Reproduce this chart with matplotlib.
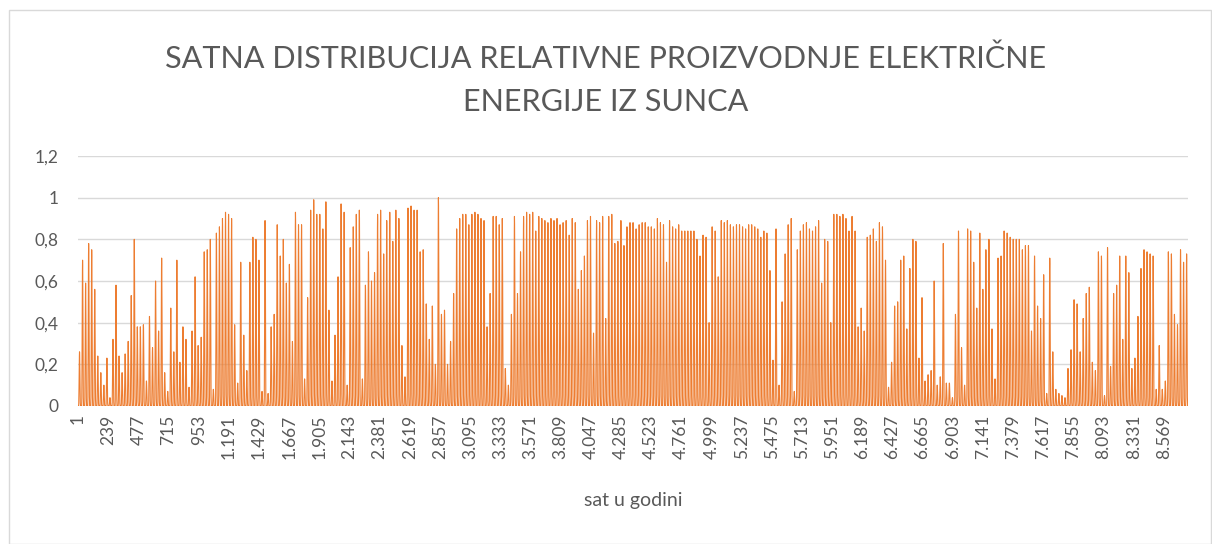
import matplotlib
matplotlib.use("Agg")
import matplotlib.pyplot as plt
from matplotlib.patches import Rectangle
import numpy as np

plt.rcParams['font.family'] = ['Lato', 'DejaVu Sans']

title = "SATNA DISTRIBUCIJA RELATIVNE PROIZVODNJE ELEKTRIČNE\nENERGIJE IZ SUNCA"
x_title = "sat u godini"

# daily peak values (365 days)
daily_peak = [
    0.26,0.70,0.59,0.78,0.75,0.56,0.24,0.16,0.10,0.23,0.04,0.32,0.58,0.24,0.16,0.25,0.31,0.53,0.80,0.38,0.38,0.39,0.12,0.43,0.28,0.60,0.36,0.71,0.16,0.07,0.47,0.26,0.70,0.21,0.38,0.32,0.09,
    0.36,0.62,0.29,0.33,0.74,0.75,0.80,0.08,0.83,0.86,0.90,0.93,0.92,0.90,0.39,0.11,0.69,0.34,0.17,0.69,0.81,0.80,0.70,0.07,0.89,0.06,0.38,0.44,0.87,0.72,0.80,0.59,0.68,0.31,0.93,0.87,
    0.87,0.13,0.52,0.94,0.99,0.92,0.92,0.85,0.98,0.46,0.12,0.34,0.62,0.97,0.93,0.10,0.76,0.86,0.92,0.94,0.13,0.58,0.74,0.60,0.64,0.92,0.94,0.73,0.89,0.93,0.79,0.94,0.90,0.29,0.14,0.95,0.96,
    0.94,0.94,0.74,0.75,0.49,0.32,0.48,0.20,1.00,0.44,0.46,0.20,0.31,0.54,0.85,0.90,0.92,0.92,0.87,0.92,0.93,0.92,0.90,0.89,0.38,0.54,0.91,0.91,0.87,0.90,0.18,0.10,0.44,0.91,0.54,0.74,
    0.91,0.93,0.92,0.93,0.84,0.91,0.90,0.89,0.88,0.90,0.89,0.90,0.87,0.88,0.89,0.82,0.90,0.88,0.56,0.65,0.72,0.89,0.91,0.35,0.89,0.88,0.91,0.42,0.91,0.92,0.78,0.79,0.89,0.77,0.86,0.88,0.88,
    0.85,0.87,0.88,0.88,0.86,0.86,0.85,0.90,0.88,0.87,0.69,0.89,0.86,0.85,0.87,0.84,0.84,0.84,0.84,0.84,0.80,0.72,0.82,0.81,0.40,0.86,0.84,0.62,0.89,0.88,0.89,0.87,0.86,0.87,0.87,0.86,
    0.85,0.87,0.87,0.86,0.85,0.81,0.84,0.83,0.65,0.22,0.85,0.10,0.50,0.73,0.87,0.90,0.07,0.75,0.84,0.87,0.88,0.85,0.84,0.86,0.89,0.59,0.80,0.79,0.40,0.92,0.92,0.91,0.92,0.90,0.84,0.91,0.84,
    0.38,0.47,0.36,0.81,0.82,0.85,0.79,0.88,0.86,0.70,0.09,0.21,0.48,0.50,0.70,0.72,0.37,0.66,0.80,0.79,0.23,0.52,0.12,0.15,0.17,0.60,0.10,0.14,0.78,0.11,0.11,0.04,0.44,0.84,0.28,0.10,
    0.85,0.84,0.69,0.47,0.83,0.56,0.75,0.80,0.37,0.13,0.71,0.72,0.84,0.83,0.81,0.80,0.80,0.80,0.75,0.77,0.77,0.36,0.72,0.48,0.42,0.63,0.06,0.71,0.26,0.08,0.06,0.05,0.04,0.18,0.27,0.51,0.49,
    0.26,0.42,0.54,0.57,0.21,0.17,0.74,0.72,0.05,0.76,0.19,0.54,0.58,0.72,0.32,0.72,0.64,0.18,0.23,0.43,0.66,0.75,0.74,0.73,0.72,0.08,0.29,0.08,0.12,0.74,0.73,0.44,0.39,0.75,0.69,0.73,
]

# typical relative hourly profile of a day (24 hours)
hour_profile = [0, 0, 0, 0, 0, 0.01, 0.05, 0.16, 0.34, 0.57, 0.78, 0.93, 1.0,
                0.96, 0.83, 0.64, 0.42, 0.20, 0.06, 0.01, 0, 0, 0, 0]

tick_start = 1
tick_step = 238
tick_count = 37
y_ticks = [0, 0.2, 0.4, 0.6, 0.8, 1.0, 1.2]
y_tick_labels = ["0", "0,2", "0,4", "0,6", "0,8", "1", "1,2"]

values = np.outer(np.array(daily_peak), np.array(hour_profile)).ravel()
hours = np.arange(1, len(values) + 1)

fig = plt.figure(figsize=(12.12, 5.44), dpi=100)
fig.patches.append(Rectangle((9/1212, 0), 1 - 9/1212 - 0.0005, 1 - 10/544,
                             transform=fig.transFigure, fill=False,
                             edgecolor="#d9d9d9", linewidth=1.0))

ax = fig.add_axes([78/1212, 1 - 406/544, (1188 - 78)/1212, (406 - 156)/544])
ax.plot(hours, values, color="#ED7D31", linewidth=0.8)

ax.set_xlim(1, len(values))
ax.set_ylim(0, 1.2)
ax.set_yticks(y_ticks)
ax.set_yticklabels(y_tick_labels)
ticks = [tick_start + tick_step * k for k in range(tick_count)]
ax.set_xticks(ticks)
ax.set_xticklabels([f"{t:,}".replace(",", ".") for t in ticks], rotation=90)
ax.tick_params(axis="both", length=0, labelsize=12.5, colors="#595959")
ax.tick_params(axis="x", pad=6)
ax.tick_params(axis="y", pad=14)
ax.grid(axis="y", color="#d9d9d9", linewidth=1.0)
ax.set_axisbelow(True)
for s in ax.spines.values():
    s.set_visible(False)

ax.set_xlabel(x_title, fontsize=14, color="#595959", labelpad=24)
fig.text(0.5, 1 - 80/544, title, ha="center", va="center", fontsize=22.1,
         fontweight="normal", color="#595959", linespacing=1.65)

fig.savefig("out.png", dpi=100)
